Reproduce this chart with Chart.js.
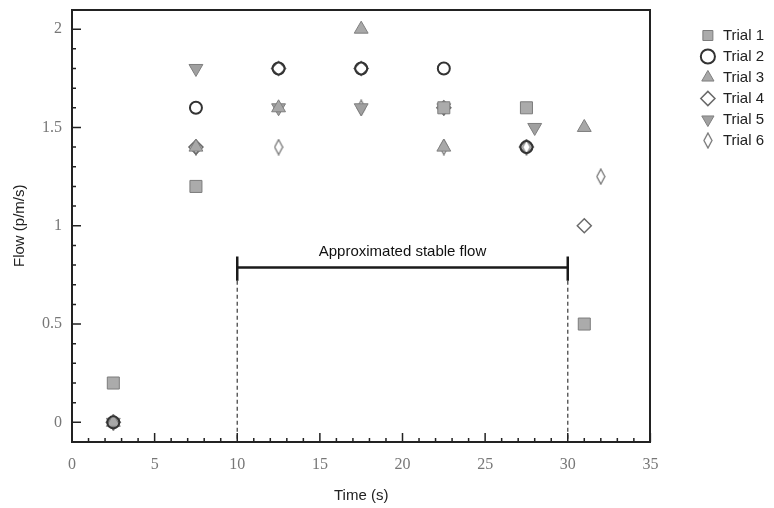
<html>

<head>
    <script src="https://cdn.jsdelivr.net/npm/chart.js@4.4.0/dist/chart.umd.min.js"></script>

    <style>
        body {
            margin: 0;
            background-color: #ffffff;
        }
    </style>

</head>

<body>
    <canvas id="myChart" width="774" height="508"></canvas>
</body>
<script>

    var timeTrial1 = [2.5, 7.5, 22.5, 27.5, 31];
    var flowTrial1 = [0.2, 1.2, 1.6, 1.6, 0.5];

    var timeTrial2 = [2.5, 7.5, 12.5, 17.5, 22.5, 27.5];
    var flowTrial2 = [0, 1.6, 1.8, 1.8, 1.8, 1.4];

    var timeTrial3 = [2.5, 7.5, 12.5, 17.5, 22.5, 31];
    var flowTrial3 = [0, 1.4, 1.6, 2.0, 1.4, 1.5];

    var timeTrial4 = [2.5, 7.5, 12.5, 17.5, 22.5, 27.5, 31];
    var flowTrial4 = [0, 1.4, 1.8, 1.8, 1.6, 1.4, 1.0];

    var timeTrial5 = [2.5, 7.5, 12.5, 17.5, 22.5, 28];
    var flowTrial5 = [0, 1.8, 1.6, 1.6, 1.6, 1.5];

    var timeTrial6 = [2.5, 7.5, 12.5, 17.5, 22.5, 27.5, 32];
    var flowTrial6 = [0, 1.4, 1.4, 1.6, 1.4, 1.4, 1.25];

    var trialNames = ['Trial 1', 'Trial 2', 'Trial 3', 'Trial 4', 'Trial 5', 'Trial 6'];

    // stable flow bracket
    var stableStart = 10;
    var stableEnd = 30;
    var bracketFlow = 0.787;
    var capTop = 0.843;
    var capBottom = 0.72;
    var stableLabel = 'Approximated stable flow';
    var stableLabelFlow = 0.868;

    // axes
    var xTickValues = [0, 5, 10, 15, 20, 25, 30, 35];
    var yTickValues = [0, 0.5, 1, 1.5, 2];
    var xMin = 0, xMax = 35;
    var yMin = -0.1, yMax = 2.1;


    function pairUp(xs, ys) {
        var out = [];
        for (var i = 0; i < xs.length; i++) {
            out.push({ x: xs[i], y: ys[i] });
        }
        return out;
    }

    // narrow diamond used for trial 6
    function makeThinDiamond() {
        var c = document.createElement('canvas');
        c.width = 10;
        c.height = 17;
        var g = c.getContext('2d');
        g.strokeStyle = '#777777';
        g.lineWidth = 1.3;
        g.beginPath();
        g.moveTo(5, 1);
        g.lineTo(9, 8.5);
        g.lineTo(5, 16);
        g.lineTo(1, 8.5);
        g.closePath();
        g.fillStyle = '#ffffff';
        g.fill();
        g.stroke();
        return c;
    }

    function guideLine(points, dashed) {
        return {
            label: '',
            data: points,
            showLine: true,
            pointRadius: 0,
            borderColor: dashed ? '#555555' : '#1a1a1a',
            borderWidth: dashed ? 1.4 : 2.5,
            borderDash: dashed ? [4, 3] : [],
            guide: true
        };
    }

    // no label overhang padding, so the plot box sits where it should
    function noPad(scale) {
        scale.paddingTop = 0;
        scale.paddingBottom = 0;
        scale.paddingLeft = 0;
        scale.paddingRight = 0;
    }

    var innerTicks = {
        id: 'innerTicks',
        afterDraw: function (chart) {
            var ctx = chart.ctx;
            var xs = chart.scales.x;
            var ys = chart.scales.y;
            var area = chart.chartArea;
            ctx.save();
            ctx.strokeStyle = '#222222';
            ctx.lineWidth = 1.5;
            ctx.beginPath();
            for (var v = xMin; v <= xMax; v++) {
                var px = xs.getPixelForValue(v);
                var len = (v % 5 === 0) ? 9 : 4;
                ctx.moveTo(px, area.bottom);
                ctx.lineTo(px, area.bottom - len);
            }
            for (var i = 0; i <= 20; i++) {
                var py = ys.getPixelForValue(i / 10);
                var ylen = (i % 5 === 0) ? 9 : 4;
                ctx.moveTo(area.left, py);
                ctx.lineTo(area.left + ylen, py);
            }
            ctx.stroke();
            ctx.restore();
        }
    };

    var stableText = {
        id: 'stableText',
        afterDatasetsDraw: function (chart) {
            var ctx = chart.ctx;
            ctx.save();
            ctx.font = '15px "Liberation Sans", Arial, sans-serif';
            ctx.fillStyle = '#111111';
            ctx.textAlign = 'center';
            ctx.textBaseline = 'middle';
            ctx.fillText(stableLabel,
                chart.scales.x.getPixelForValue((stableStart + stableEnd) / 2),
                chart.scales.y.getPixelForValue(stableLabelFlow));
            ctx.restore();
        }
    };

    function drawMyChart() {

        var paintingCanvas = document.getElementById('myChart').getContext('2d');
        var chart = new Chart(paintingCanvas, {
            type: 'scatter',
            data: {
                datasets: [
                    {
                        label: trialNames[0],
                        data: pairUp(timeTrial1, flowTrial1),
                        pointStyle: 'rect',
                        pointRadius: 8.5,
                        backgroundColor: '#ababab',
                        borderColor: '#7c7c7c',
                        borderWidth: 1
                    },
                    {
                        label: trialNames[1],
                        data: pairUp(timeTrial2, flowTrial2),
                        pointStyle: 'circle',
                        pointRadius: 6,
                        backgroundColor: 'rgba(255, 255, 255, 0)',
                        borderColor: '#333333',
                        borderWidth: 2
                    },
                    {
                        label: trialNames[2],
                        data: pairUp(timeTrial3, flowTrial3),
                        pointStyle: 'triangle',
                        pointRadius: 8,
                        backgroundColor: '#a8a8a8',
                        borderColor: '#7f7f7f',
                        borderWidth: 1
                    },
                    {
                        label: trialNames[3],
                        data: pairUp(timeTrial4, flowTrial4),
                        pointStyle: 'rectRot',
                        pointRadius: 7,
                        backgroundColor: 'rgba(255, 255, 255, 0)',
                        borderColor: '#6a6a6a',
                        borderWidth: 1.5
                    },
                    {
                        label: trialNames[4],
                        data: pairUp(timeTrial5, flowTrial5),
                        pointStyle: 'triangle',
                        rotation: 180,
                        pointRadius: 8,
                        backgroundColor: '#a0a0a0',
                        borderColor: '#7f7f7f',
                        borderWidth: 1
                    },
                    {
                        label: trialNames[5],
                        data: pairUp(timeTrial6, flowTrial6),
                        pointStyle: makeThinDiamond(),
                        pointRadius: 8,
                        backgroundColor: 'rgba(255, 255, 255, 0)',
                        borderColor: '#777777'
                    },
                    guideLine([{ x: stableStart, y: bracketFlow }, { x: stableEnd, y: bracketFlow }], false),
                    guideLine([{ x: stableStart, y: capTop }, { x: stableStart, y: capBottom }], false),
                    guideLine([{ x: stableEnd, y: capTop }, { x: stableEnd, y: capBottom }], false),
                    guideLine([{ x: stableStart, y: capBottom }, { x: stableStart, y: yMin }], true),
                    guideLine([{ x: stableEnd, y: capBottom }, { x: stableEnd, y: yMin }], true)
                ]
            },
            options: {
                responsive: false,
                animation: false,
                layout: { padding: 0 },
                plugins: {
                    tooltip: { enabled: false },
                    legend: {
                        position: 'right',
                        align: 'start',
                        title: { display: true, text: '', padding: { top: 10, bottom: 0 }, font: { size: 10 } },
                        labels: {
                            usePointStyle: true,
                            boxHeight: 10,
                            padding: 6,
                            color: '#222222',
                            font: { family: '"Liberation Sans", Arial, sans-serif', size: 15 },
                            filter: function (item, data) {
                                return !data.datasets[item.datasetIndex].guide;
                            }
                        }
                    }
                },
                scales: {
                    x: {
                        type: 'linear',
                        position: 'bottom',
                        min: xMin,
                        max: xMax,
                        afterBuildTicks: function (scale) {
                            scale.ticks = xTickValues.map(function (v) { return { value: v }; });
                        },
                        afterFit: function (scale) { scale.height = 66; noPad(scale); },
                        grid: { display: false, drawTicks: false, tickLength: 0 },
                        border: { display: true, color: '#222222', width: 2 },
                        ticks: {
                            padding: 13,
                            maxRotation: 0,
                            autoSkip: false,
                            color: '#777777',
                            font: { family: '"Liberation Serif", "Times New Roman", serif', size: 16 },
                            callback: function (v) { return String(v); }
                        },
                        title: {
                            display: true,
                            text: 'Time (s)',
                            color: '#222222',
                            padding: { top: 0, bottom: 3 },
                            font: { family: '"Liberation Sans", Arial, sans-serif', size: 15 }
                        }
                    },
                    y: {
                        type: 'linear',
                        position: 'left',
                        min: yMin,
                        max: yMax,
                        afterBuildTicks: function (scale) {
                            scale.ticks = yTickValues.map(function (v) { return { value: v }; });
                        },
                        afterFit: function (scale) { scale.width = 72; noPad(scale); },
                        grid: { display: false, drawTicks: false, tickLength: 0 },
                        border: { display: true, color: '#222222', width: 2 },
                        ticks: {
                            padding: 10,
                            color: '#777777',
                            font: { family: '"Liberation Serif", "Times New Roman", serif', size: 16 },
                            callback: function (v) { return String(v); }
                        },
                        title: {
                            display: true,
                            text: 'Flow (p/m/s)',
                            color: '#222222',
                            padding: { top: 11, bottom: 0 },
                            font: { family: '"Liberation Sans", Arial, sans-serif', size: 15 }
                        }
                    },
                    x2: {
                        type: 'linear',
                        position: 'top',
                        min: xMin,
                        max: xMax,
                        afterFit: function (scale) { scale.height = 7; noPad(scale); },
                        grid: { display: false, drawTicks: false },
                        border: { display: true, color: '#222222', width: 2 },
                        ticks: { display: false }
                    },
                    y2: {
                        type: 'linear',
                        position: 'right',
                        min: yMin,
                        max: yMax,
                        afterFit: function (scale) { scale.width = 44; noPad(scale); },
                        grid: { display: false, drawTicks: false },
                        border: { display: true, color: '#222222', width: 2 },
                        ticks: { display: false }
                    }
                }
            },
            plugins: [innerTicks, stableText]
        });
        return chart;
    }

    drawMyChart();

</script>

</html>
